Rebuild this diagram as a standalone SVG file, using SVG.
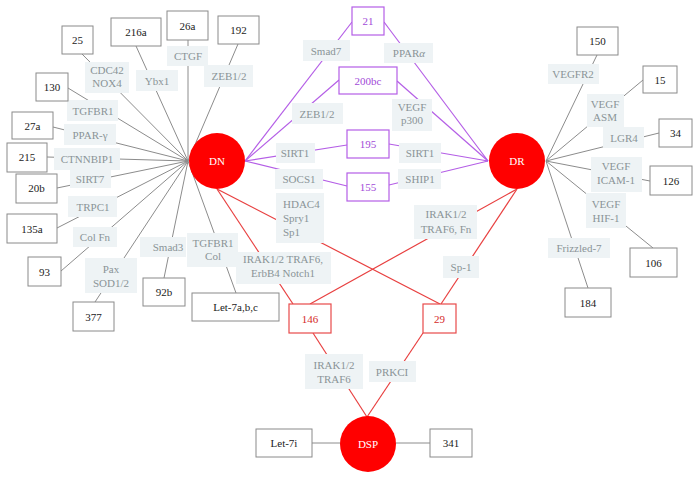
<svg xmlns="http://www.w3.org/2000/svg" width="699" height="478" viewBox="0 0 699 478">
<style>
text{font-family:"Liberation Serif","Times New Roman",serif;font-size:11px;text-anchor:middle}
.bx{fill:#fff;stroke:#8a8a8a;stroke-width:1}
.bt{fill:#222}
.pb{fill:#fff;stroke:#b45ee6;stroke-width:1.2}
.pt{fill:#a24ad8}
.rb{fill:#fff;stroke:#e84a4a;stroke-width:1.2}
.rt{fill:#d52a2a}
.lb{fill:#eef3f5}
.lt{fill:#8a9397}
.gl{stroke:#8c8c8c;stroke-width:1;fill:none}
.pl{stroke:#b45ee6;stroke-width:1.2;fill:none}
.rl{stroke:#e84040;stroke-width:1.2;fill:none}
.hub{fill:#ff0000}
.ht{fill:#fff;font-size:11px}
</style>
<rect width="699" height="478" fill="#fff"/>
<g id="connectors">
<g class="gl">
<line x1="188" y1="161" x2="82" y2="54"/>
<line x1="188" y1="161" x2="136" y2="46"/>
<line x1="188" y1="161" x2="188" y2="40"/>
<line x1="188" y1="161" x2="238" y2="44"/>
<line x1="188" y1="161" x2="68" y2="88"/>
<line x1="188" y1="161" x2="53" y2="127"/>
<line x1="188" y1="161" x2="47" y2="157"/>
<line x1="188" y1="161" x2="57" y2="188"/>
<line x1="188" y1="161" x2="57" y2="228"/>
<line x1="188" y1="161" x2="61" y2="271"/>
<line x1="188" y1="161" x2="95" y2="302"/>
<line x1="188" y1="161" x2="164" y2="278"/>
<line x1="188" y1="161" x2="236" y2="293"/>
<line x1="546" y1="161" x2="597" y2="55"/>
<line x1="546" y1="161" x2="643" y2="80"/>
<line x1="546" y1="161" x2="659" y2="133"/>
<line x1="546" y1="161" x2="650" y2="181"/>
<line x1="546" y1="161" x2="653" y2="248"/>
<line x1="546" y1="161" x2="588" y2="288"/>
<line x1="312" y1="443" x2="340" y2="443"/>
<line x1="396" y1="443" x2="430" y2="443"/>
</g>
<g class="pl">
<line x1="245" y1="161" x2="352" y2="22"/>
<line x1="384" y1="22" x2="488" y2="161"/>
<line x1="245" y1="161" x2="339" y2="80"/>
<line x1="397" y1="81" x2="488" y2="161"/>
<line x1="245" y1="161" x2="347" y2="145"/>
<line x1="389" y1="144" x2="488" y2="161"/>
<line x1="245" y1="161" x2="347" y2="186"/>
<line x1="389" y1="185" x2="488" y2="161"/>
</g>
<g class="rl">
<line x1="217" y1="189" x2="293" y2="304"/>
<line x1="217" y1="189" x2="440" y2="304"/>
<line x1="517" y1="189" x2="310" y2="304"/>
<line x1="517" y1="189" x2="441" y2="304"/>
<line x1="313" y1="333" x2="367" y2="417"/>
<line x1="423" y1="333" x2="367" y2="417"/>
</g>
</g>
<g id="labels">
<rect class="lb" x="85" y="62" width="44" height="31"/><text class="lt" x="107" y="73.5">CDC42</text><text class="lt" x="107" y="87">NOX4</text>
<rect class="lb" x="136" y="70" width="42" height="21"/><text class="lt" x="157" y="84.5">Ybx1</text>
<rect class="lb" x="167" y="46" width="41" height="20"/><text class="lt" x="188" y="60">CTGF</text>
<rect class="lb" x="204" y="65" width="49" height="22"/><text class="lt" x="229" y="80">ZEB1/2</text>
<rect class="lb" x="67" y="100" width="51" height="21"/><text class="lt" x="93" y="114.5">TGFBR1</text>
<rect class="lb" x="64" y="124" width="52" height="21"/><text class="lt" x="90" y="138.5">PPAR-γ</text>
<rect class="lb" x="54" y="148" width="66" height="22"/><text class="lt" x="87" y="163">CTNNBIP1</text>
<rect class="lb" x="70" y="170" width="41" height="18"/><text class="lt" x="90" y="183">SIRT7</text>
<rect class="lb" x="68" y="196" width="49" height="21"/><text class="lt" x="93" y="211">TRPC1</text>
<rect class="lb" x="73" y="227" width="44" height="20"/><text class="lt" x="95" y="241">Col Fn</text>
<rect class="lb" x="85" y="258" width="52" height="35"/><text class="lt" x="111" y="273">Pax</text><text class="lt" x="111" y="286.5">SOD1/2</text>
<rect class="lb" x="140" y="237" width="46" height="20"/><text class="lt" x="168" y="251">Smad3</text>
<rect class="lb" x="187" y="233" width="51" height="34"/><text class="lt" x="213" y="246.5">TGFBR1</text><text class="lt" x="213" y="260">Col</text>
<rect class="lb" x="303" y="40" width="47" height="21"/><text class="lt" x="326" y="54.5">Smad7</text>
<rect class="lb" x="292" y="103" width="51" height="21"/><text class="lt" x="317" y="118">ZEB1/2</text>
<rect class="lb" x="276" y="143" width="39" height="20"/><text class="lt" x="295" y="157">SIRT1</text>
<rect class="lb" x="384" y="43" width="49" height="20"/><text class="lt" x="409" y="57">PPAR<tspan font-style="italic">α</tspan></text>
<rect class="lb" x="392" y="99" width="40" height="32"/><text class="lt" x="412" y="110.5">VEGF</text><text class="lt" x="412" y="123.5">p300</text>
<rect class="lb" x="399" y="143" width="42" height="20"/><text class="lt" x="420" y="157">SIRT1</text>
<rect class="lb" x="275" y="169" width="48" height="20"/><text class="lt" x="299" y="183">SOCS1</text>
<rect class="lb" x="398" y="169" width="43" height="20"/><text class="lt" x="420" y="183">SHIP1</text>
<rect class="lb" x="276" y="193" width="48" height="50"/><text class="lt" x="283" y="208" style="text-anchor:start">HDAC4</text><text class="lt" x="283" y="222" style="text-anchor:start">Spry1</text><text class="lt" x="283" y="235.5" style="text-anchor:start">Sp1</text>
<rect class="lb" x="236" y="252" width="95" height="32"/><text class="lt" x="283" y="263">IRAK1/2 TRAF6,</text><text class="lt" x="283" y="276.5">ErbB4 Notch1</text>
<rect class="lb" x="414" y="205" width="63" height="34"/><text class="lt" x="446" y="218">IRAK1/2</text><text class="lt" x="446" y="232.5">TRAF6, Fn</text>
<rect class="lb" x="443" y="256" width="36" height="22"/><text class="lt" x="461" y="271">Sp-1</text>
<rect class="lb" x="305" y="354" width="58" height="35"/><text class="lt" x="334" y="369">IRAK1/2</text><text class="lt" x="334" y="383">TRAF6</text>
<rect class="lb" x="369" y="361" width="47" height="21"/><text class="lt" x="392" y="375.5">PRKCI</text>
<rect class="lb" x="548" y="64" width="51" height="20"/><text class="lt" x="573" y="78">VEGFR2</text>
<rect class="lb" x="587" y="94" width="37" height="33"/><text class="lt" x="605" y="107.5">VEGF</text><text class="lt" x="605" y="121">ASM</text>
<rect class="lb" x="603" y="127" width="41" height="21"/><text class="lt" x="624" y="141.5">LGR4</text>
<rect class="lb" x="591" y="157" width="51" height="35"/><text class="lt" x="616" y="170">VEGF</text><text class="lt" x="616" y="184">ICAM-1</text>
<rect class="lb" x="586" y="193" width="40" height="35"/><text class="lt" x="606" y="208">VEGF</text><text class="lt" x="606" y="221.5">HIF-1</text>
<rect class="lb" x="548" y="238" width="62" height="20"/><text class="lt" x="579" y="252">Frizzled-7</text>
</g>
<g id="n25"><rect class="bx" x="62" y="26" width="31" height="28"/><text class="bt" x="77.5" y="44">25</text></g>
<g id="n216a"><rect class="bx" x="111" y="18" width="50" height="28"/><text class="bt" x="136" y="36">216a</text></g>
<g id="n26a"><rect class="bx" x="167" y="11" width="41" height="29"/><text class="bt" x="187.5" y="29.5">26a</text></g>
<g id="n192"><rect class="bx" x="218" y="16" width="41" height="28"/><text class="bt" x="238.5" y="34">192</text></g>
<g id="n130"><rect class="bx" x="36" y="73" width="32" height="28"/><text class="bt" x="52" y="91">130</text></g>
<g id="n27a"><rect class="bx" x="12" y="112" width="41" height="27"/><text class="bt" x="32.5" y="129.5">27a</text></g>
<g id="n215"><rect class="bx" x="7" y="143" width="40" height="29"/><text class="bt" x="27" y="161">215</text></g>
<g id="n20b"><rect class="bx" x="16" y="174" width="41" height="29"/><text class="bt" x="36.5" y="192">20b</text></g>
<g id="n135a"><rect class="bx" x="7" y="214" width="50" height="29"/><text class="bt" x="32" y="232.5">135a</text></g>
<g id="n93"><rect class="bx" x="28" y="257" width="33" height="29"/><text class="bt" x="44.5" y="275.5">93</text></g>
<g id="n377"><rect class="bx" x="73" y="302" width="41" height="29"/><text class="bt" x="93.5" y="320.5">377</text></g>
<g id="n92b"><rect class="bx" x="143" y="278" width="42" height="28"/><text class="bt" x="164" y="296">92b</text></g>
<g id="nlet7abc"><rect class="bx" x="192" y="293" width="87" height="28"/><text class="bt" x="235.5" y="311">Let-7a,b,c</text></g>
<g id="n150"><rect class="bx" x="577" y="27" width="41" height="28"/><text class="bt" x="597.5" y="45">150</text></g>
<g id="n15"><rect class="bx" x="643" y="66" width="34" height="27"/><text class="bt" x="660" y="83.5">15</text></g>
<g id="n34"><rect class="bx" x="659" y="119" width="33" height="28"/><text class="bt" x="675.5" y="137">34</text></g>
<g id="n126"><rect class="bx" x="650" y="166" width="42" height="29"/><text class="bt" x="671" y="184.5">126</text></g>
<g id="n106"><rect class="bx" x="630" y="248" width="47" height="29"/><text class="bt" x="653.5" y="266.5">106</text></g>
<g id="n184"><rect class="bx" x="565" y="288" width="46" height="29"/><text class="bt" x="588" y="306.5">184</text></g>
<g id="nlet7i"><rect class="bx" x="256" y="429" width="56" height="28"/><text class="bt" x="284" y="447">Let-7i</text></g>
<g id="n341"><rect class="bx" x="430" y="429" width="42" height="28"/><text class="bt" x="451" y="447">341</text></g>
<g id="n21"><rect class="pb" x="352" y="7" width="32" height="28"/><text class="pt" x="368" y="25">21</text></g>
<g id="n200bc"><rect class="pb" x="339" y="67" width="58" height="27"/><text class="pt" x="368" y="84.5">200bc</text></g>
<g id="n195"><rect class="pb" x="347" y="130" width="42" height="28"/><text class="pt" x="368" y="148">195</text></g>
<g id="n155"><rect class="pb" x="347" y="173" width="42" height="28"/><text class="pt" x="368" y="191">155</text></g>
<g id="n146"><rect class="rb" x="289" y="304" width="42" height="29"/><text class="rt" x="310" y="322.5">146</text></g>
<g id="n29"><rect class="rb" x="423" y="304" width="33" height="29"/><text class="rt" x="439.5" y="322.5">29</text></g>
<g id="DN"><circle class="hub" cx="217" cy="161" r="28"/><text class="ht" x="217" y="165">DN</text></g>
<g id="DR"><circle class="hub" cx="517" cy="161" r="28"/><text class="ht" x="517" y="165">DR</text></g>
<g id="DSP"><circle class="hub" cx="368" cy="444" r="28"/><text class="ht" x="368" y="448">DSP</text></g>
</svg>
